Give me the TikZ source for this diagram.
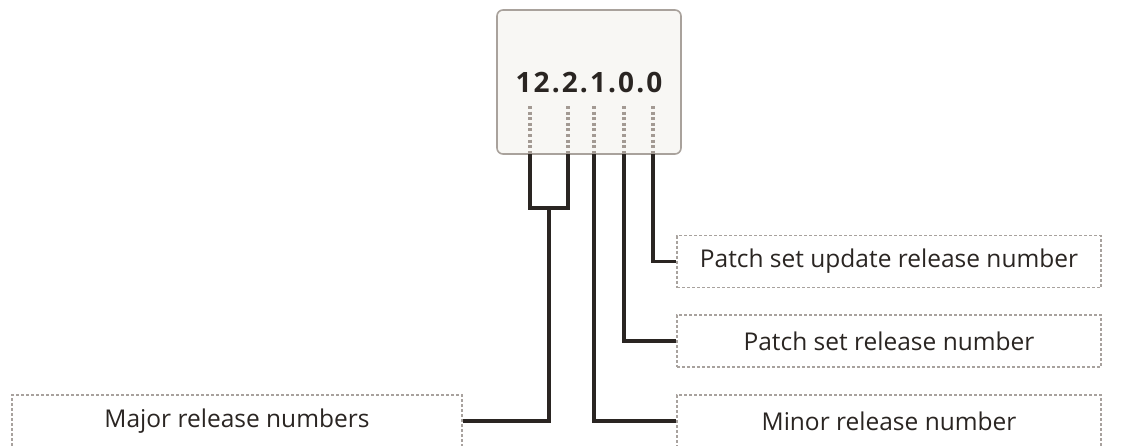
\documentclass[tikz,border=0pt]{standalone}
\usepackage{fontspec}
\setmainfont{Open Sans}
\definecolor{linec}{HTML}{2A2522}
\definecolor{dashc}{HTML}{A8A29E}
\definecolor{dotc}{HTML}{A39A93}
\definecolor{boxfill}{HTML}{F8F7F4}
\definecolor{boxdraw}{HTML}{A9A29C}
\definecolor{textc}{HTML}{2A2522}
\tikzset{
  lbl/.style={draw=dashc, line width=1.2pt, dash pattern=on 3pt off 2pt, minimum height=52pt,
    inner sep=0pt, text=textc, font=\fontsize{24.5}{29}\selectfont},
  topbox/.style={draw=boxdraw, fill=boxfill, line width=1.6pt, rounded corners=6pt, inner sep=0pt},
  conn/.style={draw=linec, line width=3.4pt},
  dotl/.style={draw=dotc, line width=3.2pt, dash pattern=on 3pt off 2.6pt},
}
\begin{document}
\begin{tikzpicture}[x=1pt,y=-1pt]
\useasboundingbox (0,0) rectangle (1134,445);
\node[topbox, minimum width=184pt, minimum height=144pt] (top) at (589,82) {};
\node[text=textc, font=\fontsize{28}{32}\selectfont\bfseries\addfontfeature{LetterSpace=7.5}, inner sep=0pt, anchor=base] (ver) at (589,92) {12.2.1.0.0};
% columns
\coordinate (d1) at (530,106); \coordinate (c1) at (530,154);
\coordinate (d2) at (568,106); \coordinate (c2) at (568,154);
\coordinate (d3) at (594,106); \coordinate (c3) at (594,154);
\coordinate (d4) at (624,106); \coordinate (c4) at (624,154);
\coordinate (d5) at (653,106); \coordinate (c5) at (653,154);
\foreach \i in {1,...,5} { \draw[dotl] (d\i) -- (c\i); }
% labels
\node[lbl, minimum width=424pt] (psu) at (889,261.5) {Patch set update release number};
\node[lbl, minimum width=424pt] (ps) at (889,341) {Patch set release number};
\node[lbl, minimum width=424pt] (minor) at (889,421) {Minor release number};
\node[lbl, minimum width=450pt] (major) at (237,421) {Major release numbers};
% connectors
\coordinate (j) at (549,208);
\draw[conn] (c1) -- (530,208) -- (568,208) -- (c2);
\draw[conn] (j) |- (major.east);
\draw[conn] (c3) |- (minor.west);
\draw[conn] (c4) |- (ps.west);
\draw[conn] (c5) |- (psu.west);
\end{tikzpicture}
\end{document}
